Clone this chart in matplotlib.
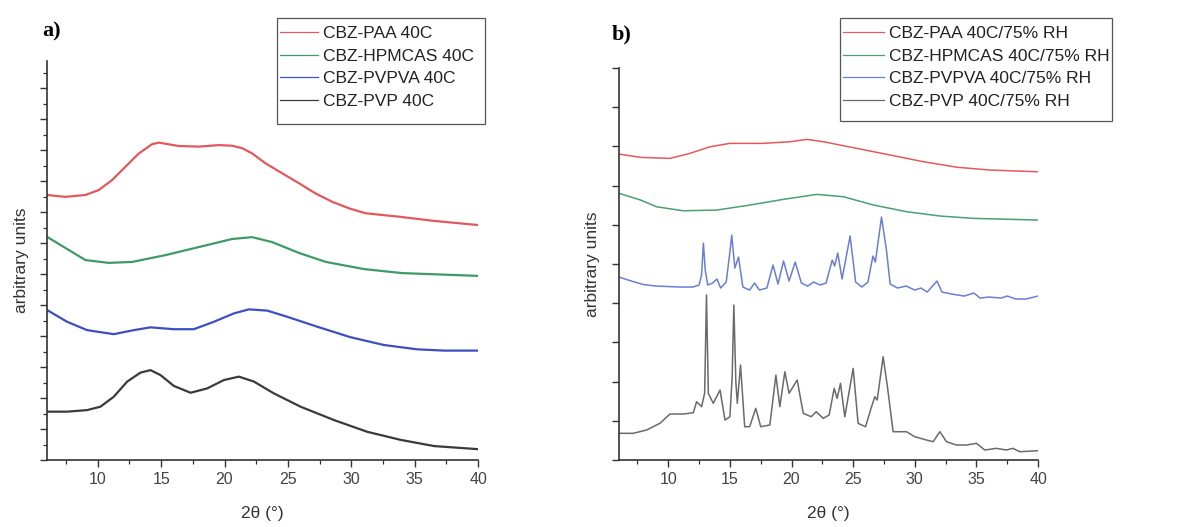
#!/usr/bin/env python3
"""Powder XRD patterns of CBZ dispersions after storage at 40C and 40C/75% RH."""

import matplotlib

matplotlib.use("Agg")
import matplotlib.pyplot as plt
from matplotlib.patches import Rectangle
from matplotlib.ticker import MultipleLocator, NullFormatter

plt.rcParams["font.family"] = ["Liberation Sans", "DejaVu Sans"]

OUTPUT = "out.png"
WIDTH, HEIGHT = 1194, 527

# panel a) 40C, dry storage
A_LABELS = ["CBZ-PAA 40C", "CBZ-HPMCAS 40C", "CBZ-PVPVA 40C", "CBZ-PVP 40C"]
A_PAA_X = [6.0, 7.45, 9.03, 10.08, 11.13, 12.18, 13.24, 14.29, 14.82, 16.39,
           17.97, 19.55, 20.6, 21.39, 22.18, 23.24, 24.55, 25.87, 27.18, 28.5,
           29.82, 31.13, 33.76, 36.39, 40.0]
A_PAA_Y = [855, 849, 855, 871, 903, 946, 989, 1019, 1024, 1013,
           1011, 1016, 1014, 1006, 989, 957, 925, 893, 860, 833,
           812, 796, 785, 772, 758]
A_HPMCAS_X = [6.0, 7.45, 9.03, 10.87, 12.71, 15.34, 17.97, 20.6, 22.18, 23.76,
              25.87, 28.0, 31.0, 34.0, 40.0]
A_HPMCAS_Y = [720, 684, 645, 636, 639, 661, 687, 713, 719, 703,
              668, 639, 616, 603, 594]
A_PVPVA_X = [6.0, 7.58, 9.16, 11.26, 12.84, 14.16, 16.0, 17.58, 19.16, 20.74,
             21.92, 23.37, 24.95, 27.32, 29.95, 32.58, 35.21, 37.32, 40.0]
A_PVPVA_Y = [484, 446, 419, 406, 419, 428, 422, 422, 446, 473,
             486, 482, 462, 430, 396, 371, 357, 353, 353]
A_PVP_X = [6.0, 7.58, 9.16, 10.21, 11.26, 12.32, 13.37, 14.16, 14.95, 16.0,
           17.32, 18.63, 19.95, 21.13, 22.32, 23.89, 26.0, 28.63, 31.26, 33.89,
           36.53, 40.0]
A_PVP_Y = [156, 156, 161, 172, 204, 253, 282, 290, 274, 239,
           217, 231, 258, 269, 253, 215, 172, 129, 91, 65,
           45, 35]

# panel b) 40C / 75% RH
B_LABELS = ["CBZ-PAA 40C/75% RH", "CBZ-HPMCAS 40C/75% RH",
            "CBZ-PVPVA 40C/75% RH", "CBZ-PVP 40C/75% RH"]
B_PAA_X = [6.0, 7.76, 10.14, 11.76, 13.38, 15.0, 17.71, 19.88, 21.24, 22.59,
           25.3, 28.01, 30.71, 33.42, 36.13, 40.0]
B_PAA_Y = [7803, 7719, 7693, 7821, 7989, 8076, 8076, 8117, 8178, 8117,
           7948, 7778, 7607, 7467, 7395, 7352]
B_HPMCAS_X = [6.0, 7.76, 9.05, 11.22, 13.93, 16.63, 19.34, 22.05, 24.22, 26.65,
              29.36, 32.07, 34.78, 40.0]
B_HPMCAS_Y = [6801, 6630, 6459, 6357, 6375, 6503, 6648, 6775, 6714, 6503,
              6332, 6222, 6163, 6120]
B_PVPVA_X = [6.0, 7.0, 8.0, 9.0, 10.0, 11.0, 12.0, 12.5, 12.7, 12.85,
             13.0, 13.2, 13.6, 13.95, 14.25, 14.7, 15.0, 15.15, 15.4, 15.7,
             16.05, 16.6, 17.0, 17.4, 18.0, 18.5, 18.9, 19.35, 19.8, 20.3,
             20.8, 21.3, 21.8, 22.3, 22.8, 23.3, 23.5, 23.75, 24.1, 24.75,
             25.2, 25.7, 26.2, 26.6, 26.8, 27.3, 27.7, 28.0, 28.6, 29.3,
             30.0, 30.5, 31.0, 31.8, 32.2, 33.0, 34.0, 34.8, 35.3, 36.0,
             37.0, 37.5, 38.2, 39.0, 40.0]
B_PVPVA_Y = [4667, 4565, 4475, 4437, 4424, 4412, 4412, 4463, 4718, 5534,
             4845, 4463, 4514, 4616, 4386, 4539, 5304, 5738, 4896, 5177,
             4412, 4335, 4514, 4335, 4386, 4973, 4488, 5075, 4565, 5049,
             4514, 4437, 4539, 4463, 4514, 5100, 4947, 5279, 4616, 5712,
             4539, 4412, 4539, 5202, 5049, 6197, 5355, 4488, 4386, 4437,
             4335, 4386, 4284, 4565, 4284, 4233, 4182, 4259, 4131, 4157,
             4131, 4182, 4106, 4106, 4182]
B_PVP_X = [6.0, 7.16, 8.24, 9.32, 10.14, 11.2, 12.03, 12.3, 12.7, 12.95,
           13.1, 13.25, 13.65, 14.2, 14.6, 15.0, 15.18, 15.32, 15.48, 15.6,
           15.86, 16.2, 16.6, 17.1, 17.5, 18.24, 18.73, 19.05, 19.46, 19.8,
           20.46, 20.95, 21.6, 22.0, 22.57, 23.05, 23.46, 23.7, 23.97, 24.32,
           25.0, 25.4, 26.0, 26.49, 26.76, 26.95, 27.43, 27.78, 28.24, 29.32,
           30.0, 30.95, 31.49, 32.03, 32.57, 33.38, 34.19, 35.0, 35.68, 36.62,
           37.43, 37.97, 38.5, 40.0]
B_PVP_Y = [681, 681, 765, 936, 1173, 1173, 1206, 1487, 1359, 1700,
           4208, 1700, 1446, 1785, 1020, 1104, 2100, 3953, 2000, 1446,
           2423, 849, 849, 1318, 849, 893, 2168, 1359, 2252, 1701,
           2040, 1191, 1104, 1232, 1063, 1148, 1828, 1573, 1956, 1104,
           2338, 936, 849, 1359, 1614, 1530, 2634, 1869, 722, 722,
           594, 510, 467, 722, 467, 383, 383, 426, 255, 298,
           255, 298, 212, 237]

A_COLORS = ["#e2595d", "#3f9a68", "#3d4fbf", "#3a3a3a"]
B_COLORS = ["#e2595d", "#4aa070", "#6a7ed2", "#6a6a6a"]


def fig_xy(px, py):
    """Pixel position (from top-left) to figure fraction."""
    return px / WIDTH, 1.0 - py / HEIGHT


def style_axis(axis, ymax, ymajor, yminor, ylabelpad):
    for side in ("top", "right"):
        axis.spines[side].set_visible(False)
    for side in ("left", "bottom"):
        axis.spines[side].set_color("#333333")
        axis.spines[side].set_linewidth(1.2)
    axis.set_xlim(6, 40)
    axis.set_ylim(0, ymax)
    axis.xaxis.set_major_locator(MultipleLocator(5))
    axis.xaxis.set_minor_locator(MultipleLocator(2.5))
    axis.yaxis.set_major_locator(MultipleLocator(ymajor))
    if yminor:
        axis.yaxis.set_minor_locator(MultipleLocator(yminor))
    axis.yaxis.set_major_formatter(NullFormatter())
    axis.tick_params(axis="both", which="major", direction="out", length=5,
                     width=1.0, color="#333333", labelsize=11.5,
                     labelcolor="#444444")
    axis.tick_params(axis="both", which="minor", direction="out", length=3,
                     width=0.9, color="#333333")
    axis.set_xlabel("2θ (°)", fontsize=12.5, color="#333333", labelpad=14)
    axis.set_ylabel("arbitrary units", fontsize=12.5, color="#333333",
                    labelpad=ylabelpad)


def add_legend(figure, axis, box, handle_px):
    left, top, right, bottom = box
    x0, y0 = fig_xy(left, bottom)
    x1, y1 = fig_xy(right, top)
    figure.patches.append(
        Rectangle((x0, y0), x1 - x0, y1 - y0, transform=figure.transFigure,
                  fill=False, edgecolor="#555555", linewidth=0.9)
    )
    legend = axis.legend(
        loc="upper left", bbox_to_anchor=fig_xy(left + 3, top + 8),
        bbox_transform=figure.transFigure, fontsize=12.5, frameon=False,
        handlelength=handle_px / 17.4, handletextpad=0.27,
        labelspacing=0.43, borderpad=0.0, borderaxespad=0.0,
    )
    for line in legend.get_lines():
        line.set_linewidth(0.9)
    for text in legend.get_texts():
        text.set_color("#222222")


def main():
    figure = plt.figure(figsize=(WIDTH / 100, HEIGHT / 100), dpi=100)
    ax_a = figure.add_axes([0.0394, 0.1271, 0.361, 0.757])
    ax_b = figure.add_axes([0.5184, 0.1271, 0.351, 0.744])

    series_a = [(A_PAA_X, A_PAA_Y), (A_HPMCAS_X, A_HPMCAS_Y),
                (A_PVPVA_X, A_PVPVA_Y), (A_PVP_X, A_PVP_Y)]
    for (xs, ys), label, color in zip(series_a, A_LABELS, A_COLORS):
        ax_a.plot(xs, ys, color=color, linewidth=1.6, label=label)

    series_b = [(B_PAA_X, B_PAA_Y), (B_HPMCAS_X, B_HPMCAS_Y),
                (B_PVPVA_X, B_PVPVA_Y), (B_PVP_X, B_PVP_Y)]
    for (xs, ys), label, color in zip(series_b, B_LABELS, B_COLORS):
        ax_b.plot(xs, ys, color=color, linewidth=1.1, label=label)

    style_axis(ax_a, 1287, 100, 50, 4.5)
    style_axis(ax_b, 10000, 1000, None, 5)

    add_legend(figure, ax_a, (277, 18, 485, 124), 38)
    add_legend(figure, ax_b, (840, 18, 1112, 121), 41)

    figure.text(*fig_xy(42, 31), "a)", fontsize=16, fontweight="bold",
                family="Liberation Serif", va="center", ha="left")
    figure.text(*fig_xy(612, 34), "b)", fontsize=16, fontweight="bold",
                family="Liberation Serif", va="center", ha="left")

    figure.savefig(OUTPUT, dpi=100)


if __name__ == "__main__":
    main()
